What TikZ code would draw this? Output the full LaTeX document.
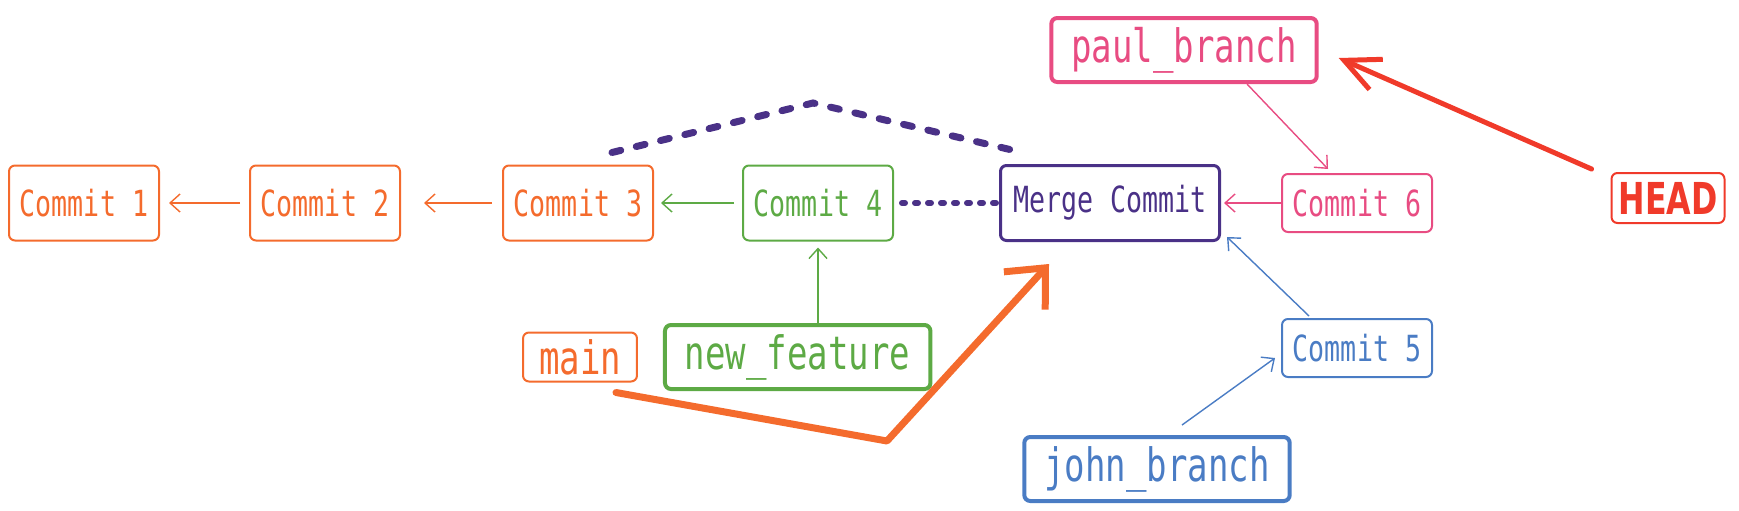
\documentclass[tikz,border=0pt]{standalone}
\usepackage{fontspec}
\newfontfamily\sketchfont{DejaVu Sans Mono}[FakeStretch=0.74]
\newfontfamily\headfont{DejaVu Sans}[FakeStretch=0.72]
\usetikzlibrary{arrows.meta,positioning,calc}
\definecolor{gitorange}{HTML}{F46B2D}
\definecolor{gitgreen}{HTML}{5DAA45}
\definecolor{gitpurple}{HTML}{4A3187}
\definecolor{gitpink}{HTML}{E84C82}
\definecolor{gitblue}{HTML}{4A7CC4}
\definecolor{gitred}{HTML}{F03A2A}

\begin{document}
\begin{tikzpicture}[x=0.5pt,y=-0.5pt,every node/.style={draw,rounded corners=3pt,align=center},
    commit/.style={line width=1pt,minimum width=75pt,minimum height=37.5pt,inner xsep=4pt,font=\sketchfont\fontsize{18}{21}\selectfont},
    branch/.style={line width=2pt,minimum height=32pt,inner xsep=10pt,font=\sketchfont\fontsize{23}{26}\selectfont},
    link/.style={-{Straight Barb[length=5pt,width=9pt]},line width=0.7pt,shorten >=4pt,shorten <=4pt}]
      \useasboundingbox (0,0) rectangle (1739,510);
      \node[commit,gitorange] (c1) at (84,203) {Commit 1};
      \node[commit,gitorange,right=44.5pt of c1] (c2) {Commit 2};
      \node[commit,gitorange,right=50.5pt of c2] (c3) {Commit 3};
      \node[commit,gitgreen,right=44pt of c3] (c4) {Commit 4};
      \node[commit,gitpurple,line width=1.5pt,minimum width=109.5pt,right=52.5pt of c4] (merge) {Merge Commit};
      \node[commit,gitpink,minimum height=29pt,right=30pt of merge] (c6) {Commit 6};
      \node[commit,gitblue,minimum height=29pt,below=42.5pt of c6] (c5) {Commit 5};
      \node[branch,gitpink] (paul) at (1184,50) {paul\_branch};
      \node[branch,gitblue] (john) at (1157,469) {john\_branch};
      \node[branch,gitorange,line width=1pt,minimum height=24.5pt,inner xsep=8pt] (main) at (580,357) {main};
      \node[branch,gitgreen,right=12.5pt of main] (nf) {new\_feature};
      \node[gitred,line width=1pt,minimum width=56.5pt,minimum height=25pt,inner sep=2pt,font=\headfont\bfseries\fontsize{22}{25}\selectfont] (head) at (1668,198) {HEAD};
      \coordinate (peak) at (813,103);
      \coordinate (bend) at (887,441);
      % commit history
      \draw[link,gitorange,shorten >=4.5pt,shorten <=4.5pt] (c2) -- (c1);
      \draw[link,gitorange,shorten >=11.5pt,shorten <=5pt] (c3) -- (c2);
      \draw[link,gitgreen,shorten >=3.5pt] (c4) -- (c3);
      \draw[link,gitgreen,shorten >=3pt,shorten <=0pt] (nf.north -| c4.south) -- (c4.south);
      \draw[link,gitpink,shorten >=1.5pt,shorten <=0pt] (c6) -- (merge);
      \draw[link,gitpink,shorten >=0pt,shorten <=0pt] ([xshift=31.5pt]paul.south) -- ([xshift=-14.5pt,yshift=2pt]c6.north);
      \draw[link,gitblue,shorten >=0pt,shorten <=0pt] ([xshift=-24pt,yshift=1pt]c5.north) -- ([xshift=3pt,yshift=2.5pt]merge.south east);
      \draw[link,gitblue,shorten >=0pt,shorten <=0pt] ([xshift=12.5pt,yshift=5pt]john.north) -- ([xshift=-3pt,yshift=-5pt]c5.west);
      % merge lines
      \draw[gitpurple,line width=3pt,line cap=round,dash pattern=on 1.5pt off 5pt,shorten <=4pt,shorten >=1.5pt] (c4) -- (merge);
      \draw[gitpurple,line width=3.5pt,line cap=round,dash pattern=on 4.5pt off 8pt] ([xshift=-21pt,yshift=6pt]c3.north east) -- (peak) -- ([xshift=6.5pt,yshift=7pt]merge.north west);
      % branch pointers
      \draw[-{Straight Barb[length=15.5pt,width=28pt]},gitorange,line width=3.5pt,line cap=round,line join=round] ([xshift=-11pt,yshift=-5pt]main.south east) -- (bend) -- ([xshift=25pt,yshift=-11pt]merge.south west);
      \draw[-{Straight Barb[length=17.5pt,width=16.5pt]},gitred,line width=2.5pt,line cap=round] ([xshift=-9.5pt,yshift=1.5pt]head.north west) -- ([xshift=10pt,yshift=-4pt]paul.east);
    \end{tikzpicture}
\end{document}
